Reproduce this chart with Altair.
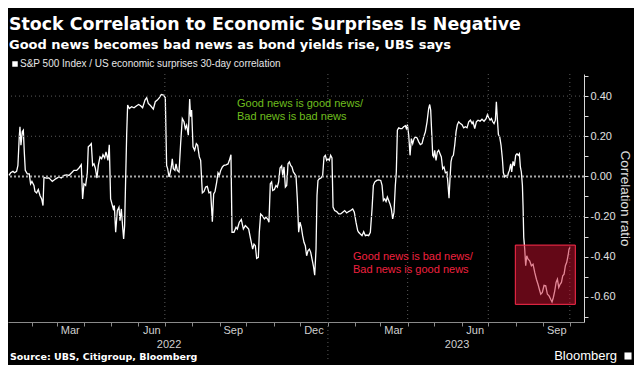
import altair as alt
import pandas as pd

# ---- data (days after 2022-01-01, correlation) ----
days_a = [5.1,7.0,9.6,11.5,13.7,15.2,16.7,17.5,18.6,20.1,21.3,22.4,23.5,25.8,28.0,29.5,31.0,33.3,34.4,36.3,38.2,40.1,42.0,43.5,44.6,47.2,50.2,54.0,57.8,61.5,64.1,67.2,70.2,72.8,75.8,78.4,81.5,84.1,86.7,88.2,89.7,91.6,93.5,94.6,96.5,98.0,99.5,101.0,102.5,104.4,105.9,107.8,109.7,111.2,113.1,114.6,116.8,118.3,119.8,121.3,122.8,124.0,125.5,127.4,129.2,130.4,131.9,133.4,134.5,135.6]
vals_a = [0.005,0.018,0.025,0.018,0.025,0.055,0.197,0.247,0.155,0.222,0.23,0.12,0.03,0.013,0.013,-0.037,-0.025,-0.045,-0.075,-0.082,-0.065,-0.095,-0.112,-0.145,-0.005,-0.008,-0.007,-0.025,-0.012,-0.003,-0.008,0.005,0.008,0.005,0.018,0.03,0.03,0.042,0.058,-0.112,-0.037,-0.045,0.018,0.147,0.155,0.163,0.055,0.063,0.042,-0.008,0.055,0.097,0.088,0.108,0.092,0.122,0.08,0.158,-0.112,-0.137,-0.162,-0.145,-0.278,-0.17,-0.153,-0.22,-0.162,-0.253,-0.312,-0.245]

days_b = [136.0,137.9,139.0,140.9,143.5,146.2,149.2,151.4,153.7,155.9,158.6,160.5,162.3,165.0,168.0,170.2,172.5,174.8,177.0,179.3,181.5,183.0,184.2,185.7,186.8,188.3,189.4,190.6,192.4,193.6,195.1,197.0,198.8,200.7,202.6,204.1,205.6,207.5,209.0,210.1,211.2,212.8,214.6,216.5,218.0,219.9,221.4,223.3,225.2,227.0,228.9,230.8,232.7,234.6,236.1,237.6,239.5,241.0,242.5,244.0,245.9,247.7,250.0,252.3,253.8,255.6,256.8,259.0,261.3,262.8,265.0]
vals_b = [-0.162,0.205,0.355,0.338,0.347,0.342,0.352,0.358,0.352,0.342,0.38,0.392,0.363,0.352,0.335,0.372,0.38,0.392,0.408,0.405,0.392,0.055,0.038,-0.003,0.013,0.047,0.088,0.038,0.03,0.063,0.03,0.022,0.163,0.288,0.272,0.238,0.255,0.205,0.385,0.297,0.33,0.147,0.13,0.163,0.155,0.097,0.08,-0.082,-0.075,-0.053,-0.05,-0.082,-0.078,-0.225,-0.087,-0.075,-0.028,0.018,0.005,0.03,0.047,0.055,0.058,0.062,0.08,0.108,-0.278,-0.278,-0.253,-0.262,-0.228]

days_c = [267.3,269.6,271.8,273.7,275.6,277.8,280.1,281.6,283.1,284.6,286.5,287.6,289.1,291.4,293.3,295.1,297.0,298.5,300.0,301.5,302.7,304.6,306.4,307.9,309.4,311.0,312.8,314.0,315.5,317.0,318.5,320.0,321.5,323.0,324.5,326.0,327.5,329.0,330.5,332.0,333.5,335.0,336.5,338.0,339.5,341.0,342.5,344.1,345.6,347.1,348.6,350.1,351.6,352.7,353.8,355.3,357.2,359.1,360.6,362.1,363.6,365.1,366.6,368.1,369.6,370.8,372.6,374.9,377.2,379.4,381.7,383.9,386.2,388.4,390.7,393.0,394.8,396.7,398.6]
vals_c = [-0.215,-0.262,-0.245,-0.253,-0.262,-0.312,-0.362,-0.337,-0.345,-0.408,-0.403,-0.278,-0.187,-0.198,-0.212,-0.203,-0.212,-0.228,-0.037,-0.028,-0.07,-0.065,-0.045,-0.053,-0.028,0.042,0.052,0.005,0.047,-0.053,-0.045,0.063,0.072,0.055,0.047,0.022,0.013,0.002,-0.112,-0.278,-0.228,-0.253,-0.295,-0.328,-0.345,-0.395,-0.37,-0.362,-0.378,-0.412,-0.445,-0.492,-0.362,-0.095,-0.02,-0.012,-0.008,0.005,0.097,0.105,0.08,0.088,0.08,0.105,0.092,-0.153,-0.17,-0.175,-0.187,-0.187,-0.178,-0.17,-0.182,-0.175,-0.17,-0.162,-0.178,-0.228,-0.27]

days_d = [399.7,401.6,403.5,405.4,407.3,409.1,411.0,412.9,414.8,416.3,417.8,420.1,422.3,424.6,426.1,427.6,429.1,430.6,432.1,433.6,435.1,436.6,438.1,439.6,441.1,442.2,443.4,444.9,446.8,448.6,450.5,452.4,453.5,454.7,456.2,457.7,459.2,460.7,462.2,463.7,465.6,467.5,469.3,471.2,473.1,475.0,476.9,478.7,479.9,481.0,482.1,483.3,484.4,485.5,487.0,488.5,490.0,491.5,493.0,494.5,496.0,497.6,499.4,500.6,501.7,502.8,503.9,505.1,506.6,508.1,509.6,511.1,512.6,514.5,516.4,518.2,520.1,522.0,523.9,525.8,527.7]
vals_d = [-0.278,-0.287,-0.295,-0.275,-0.295,-0.292,-0.295,-0.278,-0.162,-0.045,-0.028,-0.02,-0.017,-0.02,-0.045,-0.12,-0.112,-0.125,-0.103,-0.12,-0.137,-0.162,-0.212,-0.178,-0.045,0.022,0.23,0.242,0.238,0.238,0.247,0.252,0.238,0.258,0.205,0.105,0.188,0.163,0.188,0.197,0.192,0.172,0.158,0.163,0.197,0.222,0.272,0.338,0.358,0.33,0.222,0.105,0.097,0.13,0.08,0.122,0.13,0.113,0.097,0.038,0.047,0.018,0.022,-0.045,-0.108,-0.012,0.072,0.097,0.105,0.155,0.222,0.258,0.272,0.263,0.258,0.242,0.247,0.242,0.272,0.28,0.263]

days_e = [528.8,530.7,532.5,534.4,536.7,538.9,541.2,543.5,545.0,546.5,548.0,549.5,551.0,552.5,554.0,555.1,556.2,557.4,558.9,560.4,561.9,563.0,564.5,566.0,567.5,568.7,569.8,571.3,572.4,573.9,575.4,576.9,578.4,579.9,581.1,582.2,583.3,584.5,585.2,586.0,587.1,588.2,589.4,590.9,592.7,594.6,596.5,598.4,600.3,602.1,603.6,605.2,607.0,608.9,610.8,612.7,614.6,616.4,617.9,619.4,621.0,622.5,624.0,625.5,627.0,628.5,630.0,631.5,633.0,634.5,636.0,637.1,638.3]
vals_e = [0.272,0.238,0.272,0.28,0.275,0.285,0.275,0.288,0.308,0.292,0.28,0.288,0.272,0.263,0.28,0.372,0.288,0.208,0.197,0.155,0.088,0.018,-0.003,0.005,-0.003,0.018,0.03,0.063,0.022,0.075,0.052,0.105,0.113,0.105,0.113,0.047,0.022,-0.045,-0.145,-0.303,-0.362,-0.445,-0.395,-0.412,-0.42,-0.445,-0.437,-0.478,-0.512,-0.537,-0.562,-0.587,-0.578,-0.542,-0.545,-0.587,-0.595,-0.612,-0.625,-0.603,-0.57,-0.528,-0.512,-0.553,-0.537,-0.528,-0.495,-0.487,-0.445,-0.428,-0.395,-0.362,-0.353]

# highlighted box (days after 2022-01-01, correlation)
box_days = [576.5, 644.2]
box_vals = [-0.637, -0.342]

grid_dates = ["2022-07-01", "2023-01-01", "2023-04-01", "2023-07-01", "2023-10-01"]
grid_vals = [0.4, 0.2, -0.2]
year_labels = ["2022", "2023"]
year_days = [185.7, 510.7]

TITLE = "Stock Correlation to Economic Surprises Is Negative"
SUBTITLE = "Good news becomes bad news as bond yields rise, UBS says"
LEGEND = "S&P 500 Index / US economic surprises 30-day correlation"
SOURCE = "Source: UBS, Citigroup, Bloomberg"

# ---- build tables ----
base_day = pd.Timestamp("2022-01-01")
days = days_a + days_b + days_c + days_d + days_e
vals = vals_a + vals_b + vals_c + vals_d + vals_e
n = min(len(days), len(vals))
line_df = pd.DataFrame({
    "date": base_day + pd.to_timedelta(days[:n], unit="D"),
    "corr": vals[:n],
})
box_df = pd.DataFrame({
    "date": [base_day + pd.to_timedelta(box_days[0], unit="D")],
    "date2": [base_day + pd.to_timedelta(box_days[1], unit="D")],
    "corr": [box_vals[0]], "corr2": [box_vals[1]],
})
vgrid_df = pd.DataFrame({"date": pd.to_datetime(grid_dates)})
hgrid_df = pd.DataFrame({"corr": grid_vals})
zero_df = pd.DataFrame({"corr": [0.0]})
year_df = pd.DataFrame({"date": base_day + pd.to_timedelta(year_days, unit="D"), "t": year_labels})
sep_df = pd.DataFrame({"date": pd.to_datetime(["2023-01-01"])})
one = pd.DataFrame({"k": [0]})

xscale = alt.Scale(domain=[alt.DateTime(year=2022, month=1, date=5),
                           alt.DateTime(year=2023, month=10, date=17)])
yscale = alt.Scale(domain=[-0.725, 0.51], nice=False, zero=False)

month_ticks = []
for y in (2022, 2023):
    for m in range(1, 13):
        if (y == 2022 and m == 1) or (y == 2023 and m > 10):
            continue
        month_ticks.append(alt.DateTime(year=y, month=m, date=1))

y_ticks = [-0.7, -0.6, -0.5, -0.4, -0.3, -0.2, -0.1, 0.0, 0.1, 0.2, 0.3, 0.4, 0.5]

small_font = "Liberation Sans"
bold_font = "DejaVu Sans"

x_axis = alt.Axis(
    values=month_ticks, title=None, grid=False,
    labelExpr="month(datum.value) % 3 == 2 ? timeFormat(datum.value, '%b') : ''",
    labelOffset=13, labelOverlap=False, labelFlush=False,
    labelColor="#cfcfcf", labelFont=small_font, labelFontSize=11, labelPadding=-2,
    domainColor="#8a8a8a", tickColor="#8a8a8a", tickSize=4,
)
y_axis = alt.Axis(
    orient="right", values=y_ticks, grid=False,
    labelExpr="abs(round(datum.value * 10)) % 2 == 0 ? ((datum.value < -0.001 ? '-' : '') + format(abs(datum.value), '.2f')) : ''",
    labelColor="#e0e0e0", labelFont=small_font, labelFontSize=11, labelPadding=2,
    domainColor="#d8d8d8", tickColor="#d8d8d8", tickSize=4,
    title="Correlation ratio", titleColor="#e0e0e0", titleFont=small_font,
    titleFontSize=13.5, titleFontWeight="normal", titleAngle=90, titlePadding=2,
)

X = lambda f: alt.X(f, scale=xscale, axis=x_axis, title=None)
Y = lambda f: alt.Y(f, scale=yscale, axis=y_axis, title="Correlation ratio")

line = alt.Chart(line_df).mark_line(color="#ffffff", strokeWidth=1.3).encode(
    x=X("date:T"), y=Y("corr:Q"))

hgrid = alt.Chart(hgrid_df).mark_rule(color="#5a5a5a", strokeDash=[1, 3], strokeWidth=1).encode(
    y=Y("corr:Q"))
zero = alt.Chart(zero_df).mark_rule(color="#a8a8a8", strokeDash=[2, 2], strokeWidth=2).encode(
    y=Y("corr:Q"))
vgrid = alt.Chart(vgrid_df).mark_rule(color="#5a5a5a", strokeDash=[1, 3], strokeWidth=1).encode(
    x=X("date:T"))
sep = alt.Chart(sep_df).mark_rule(color="#5a5a5a", strokeDash=[1, 3], strokeWidth=1).encode(
    x=X("date:T"), y=alt.value(248), y2=alt.value(285))

box = alt.Chart(box_df).mark_rect(fill="#c8102e", fillOpacity=0.5, stroke="#ff2d4d", strokeWidth=1).encode(
    x=X("date:T"), x2="date2:T", y=Y("corr:Q"), y2="corr2:Q")

years = alt.Chart(year_df).mark_text(color="#cfcfcf", font=small_font, fontSize=11, baseline="middle").encode(
    x=X("date:T"), y=alt.value(271), text="t:N")


def txt(s, x, y, **kw):
    return alt.Chart(one).mark_text(text=s, align=kw.pop("align", "left"), **kw).encode(
        x=alt.value(x), y=alt.value(y))


title = txt(TITLE, 1, -44, baseline="alphabetic", font=bold_font, fontWeight="bold", fontSize=17.4, color="#ffffff")
subtitle = txt(SUBTITLE, 1, -25.5, baseline="alphabetic", font=bold_font, fontWeight="bold", fontSize=13, color="#ffffff")
legend_sq = alt.Chart(one).mark_square(color="#ffffff", size=30, opacity=1).encode(
    x=alt.value(7), y=alt.value(-10))
legend_tx = txt(LEGEND, 12, -10, baseline="middle", font=small_font, fontSize=10, color="#e6e6e6")

good1 = txt("Good news is good news/", 229, 30, baseline="middle", font=small_font, fontSize=11, color="#6fbe1e")
good2 = txt("Bad news is bad news", 229, 43, baseline="middle", font=small_font, fontSize=11, color="#6fbe1e")
bad1 = txt("Good news is bad news/", 345, 183, baseline="middle", font=small_font, fontSize=11, color="#f0203f")
bad2 = txt("Bad news is good news", 345, 196, baseline="middle", font=small_font, fontSize=11, color="#f0203f")

source = txt(SOURCE, 2, 283, baseline="middle", font=bold_font, fontWeight="bold", fontSize=9.5, color="#ffffff")
brand = txt("Bloomberg", 609, 282, align="right", baseline="middle", font=small_font, fontSize=13, color="#ffffff")
icon = alt.Chart(one).mark_square(color="#ffffff", size=50, opacity=1).encode(
    x=alt.value(620), y=alt.value(282))

chart = alt.layer(
    line, hgrid, vgrid, sep, zero, box, years,
    title, subtitle, legend_sq, legend_tx, good1, good2, bad1, bad2, source, brand, icon,
).properties(
    width=576, height=248,
    autosize=alt.AutoSizeParams(type="none"),
    padding={"left": 0, "top": 66, "right": 50, "bottom": 43},
    background="#000000",
).configure_view(stroke=None)

chart.save("out.html", embed_options={"renderer": "svg", "actions": False})
